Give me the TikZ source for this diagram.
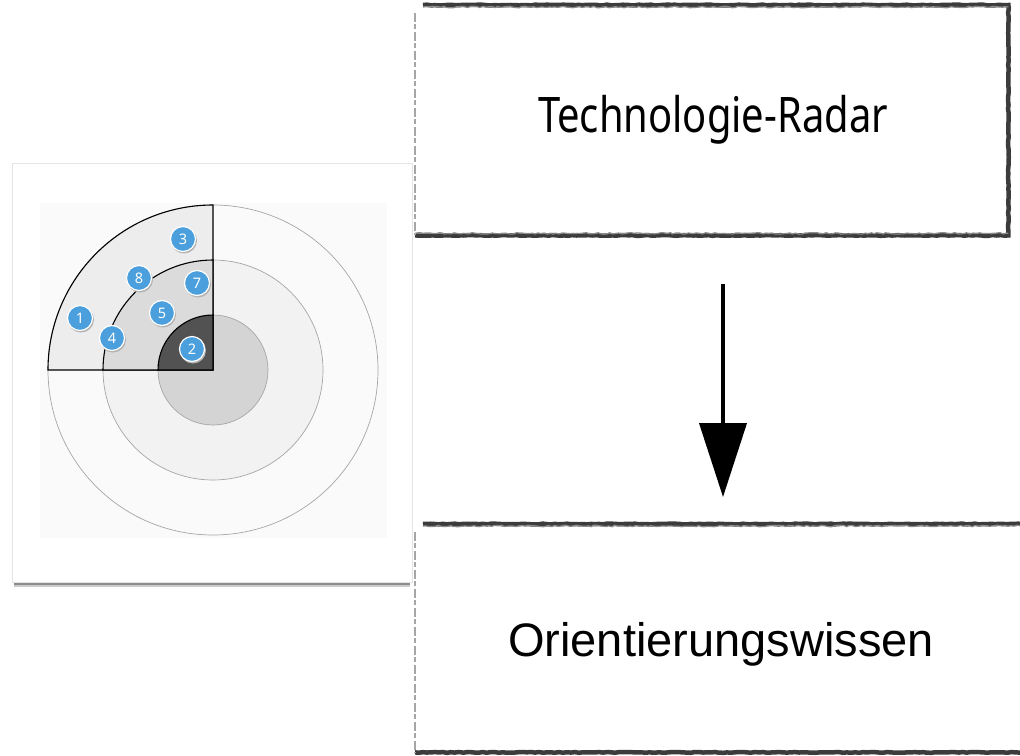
\documentclass[tikz,border=0pt]{standalone}
\usepackage{fontspec}
\setmainfont{Liberation Sans}
\newfontfamily\condfont{Noto Sans}
\usetikzlibrary{arrows.meta,decorations.pathmorphing}
\definecolor{blip}{HTML}{4A9FDC}
\definecolor{frame}{HTML}{3C3C3C}
\tikzset{
  ring/.style={draw=black!35, line width=0.7pt},
  sector/.style={draw=black, line width=1.1pt},
  blipnode/.style={circle, fill=blip, draw=white, line width=1.2pt, minimum size=25pt, inner sep=0pt,
    text=white, font=\condfont\fontsize{14.5}{14.5}\selectfont},
  boxnode/.style={draw=none, anchor=north west},
  thickedge/.style={draw=frame, line width=4.5pt, line join=miter,
    decorate, decoration={random steps, segment length=4pt, amplitude=0.4pt}},
  roughedge/.style={draw=black!45, line width=1.2pt,
    decorate, decoration={random steps, segment length=3pt, amplitude=0.8pt}},
  faintedge/.style={draw=black!35, line width=1.5pt, dash pattern=on 9pt off 2pt on 5pt off 3pt},
  sketcharrow/.style={draw=black, line width=4pt, -{Triangle[length=74pt,width=47pt]}},
}
\begin{document}
\begin{tikzpicture}[x=1pt,y=-1pt]
\useasboundingbox (0,0) rectangle (1020,755);
\clip (0,0) rectangle (1020,755);
\fill[white] (0,0) rectangle (1020,755);
% card with shadow
\fill[black!45] (14,580) rectangle (410,585);
\fill[black!20] (14,585) rectangle (410,587);
\draw[black!10, fill=white, line width=0.6pt] (12,163) rectangle (412,582);
\fill[black!2] (40,203) rectangle (387,538);
% radar rings
\coordinate (c) at (213,370);
\draw[ring, fill=black!2] (c) circle[radius=165];
\draw[ring, fill=black!5] (c) circle[radius=110];
\draw[ring, fill=black!17] (c) circle[radius=55];
% highlighted quadrant
\draw[sector, fill=black!7] (c) -- ++(-165,0) arc[start angle=180,end angle=270,radius=165] -- cycle;
\draw[sector, fill=black!14] (c) -- ++(-110,0) arc[start angle=180,end angle=270,radius=110] -- cycle;
\draw[sector, fill=black!68] (c) -- ++(-55,0) arc[start angle=180,end angle=270,radius=55] -- cycle;
% blips
\begin{scope}[every node/.append style={blipnode}]
\foreach \n/\x/\y in {3/183/239, 8/139/278, 7/197/283, 1/80/318, 5/162/313, 4/112/338, 2/192/349}{
  \fill[black!30] (\x+1,\y+1.5) circle[radius=13];
  \node (b\n) at (\x,\y) {\n};
}
\end{scope}
% boxes
\node[boxnode, minimum width=593pt, minimum height=230pt] (radar) at (415,5) {};
\draw[thickedge] ([xshift=8pt]radar.north west) -- (radar.north east) -- (radar.south east) -- (radar.south west);
\draw[roughedge] ([xshift=8pt,yshift=-2pt]radar.north west) -- ([yshift=-2pt]radar.north east);
\draw[roughedge] ([yshift=2pt]radar.south west) -- ([yshift=2pt]radar.south east);
\draw[faintedge] ([yshift=-8pt]radar.north west) -- (radar.south west);
\node[anchor=base, font=\condfont\fontsize{49}{49}\selectfont] (radartxt) at (713,132) {\resizebox{350pt}{\height}{Technologie-Radar}};
\node[boxnode, minimum width=620pt, minimum height=228pt] (orient) at (415,524) {};
\draw[thickedge] ([xshift=8pt]orient.north west) -- (orient.north east);
\draw[thickedge] (orient.south west) -- (orient.south east);
\draw[roughedge] ([xshift=8pt,yshift=-2pt]orient.north west) -- ([yshift=-2pt]orient.north east);
\draw[faintedge] ([yshift=-8pt]orient.north west) -- (orient.south west);
\node[anchor=base, font=\fontsize{47}{47}\selectfont] (orienttxt) at (721,656) {Orientierungswissen};
% arrow
\coordinate (a1) at (723,284);
\coordinate (a2) at (723,497);
\draw[sketcharrow] (a1) -- (a2);
\end{tikzpicture}
\end{document}
